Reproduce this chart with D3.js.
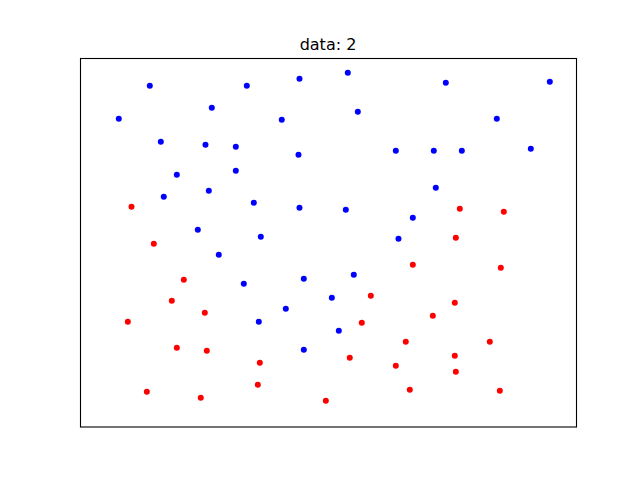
<!DOCTYPE html>
<html>
<head>
<meta charset="utf-8">
<script src="https://cdn.jsdelivr.net/npm/d3@7"></script>
<style>
  html, body { margin: 0; padding: 0; background: #fff; }
  svg { display: block; }
</style>
</head>
<body>
<svg id="chart" width="640" height="480"></svg>
<script>
const title = "data: 2";

const blueX = [13.97, 33.53, 44.15, 26.47, 7.72, 40.58, 16.19, 25.2, 31.31, 43.95,
  19.42, 31.31, 25.87, 16.79, 34.94, 44.15, 23.65, 36.35, 53.89, 73.65,
  94.62, 55.91, 83.93, 63.57, 71.23, 76.88, 90.79, 71.63, 53.49, 67.0,
  64.11, 27.88, 32.92, 45.02, 41.39, 35.95, 45.02, 55.1, 50.67, 52.08];
const blueY = [92.5, 92.5, 94.4, 86.55, 83.58, 83.31, 77.35, 76.54, 76.0, 73.84,
  68.43, 69.51, 64.1, 62.47, 60.85, 59.5, 53.54, 51.65, 96.02, 93.32,
  93.59, 85.47, 83.58, 74.92, 74.92, 74.92, 75.46, 64.91, 58.96, 56.79,
  51.11, 46.78, 38.93, 40.29, 32.17, 28.65, 21.08, 41.37, 35.15, 26.22];

const redX = [10.28, 14.78, 76.47, 85.34, 75.67, 20.83, 18.41, 25.06, 9.54, 19.42,
  25.46, 36.15, 35.75, 13.37, 24.25, 49.46, 67.0, 84.74, 58.53, 75.46,
  71.03, 56.71, 65.58, 82.52, 54.29, 75.46, 63.57, 75.67, 66.39, 84.54];
const redY = [59.77, 49.76, 59.23, 58.41, 51.38, 40.02, 34.33, 31.09, 28.65, 21.62,
  20.81, 17.56, 11.61, 9.71, 8.09, 7.28, 44.07, 43.26, 35.69, 33.79,
  30.28, 28.38, 23.24, 23.24, 18.91, 19.45, 16.75, 15.12, 10.25, 9.98];

const series = [
  { color: "#0000ff", xs: blueX, ys: blueY },
  { color: "#ff0000", xs: redX, ys: redY }
];

(function () {
  const svg = d3.select("#chart");
  const mLeft = 80, mRight = 576, mTop = 57.6, mBottom = 427.2;

  const x = d3.scaleLinear().domain([0, 100]).range([mLeft, mRight]);
  const y = d3.scaleLinear().domain([0, 100]).range([mBottom, mTop]);

  const g = svg.append("g").attr("transform", "translate(0.5,0.5)");
  series.forEach(s => {
    g.selectAll(null)
      .data(s.xs.map((v, i) => [v, s.ys[i]]))
      .enter().append("circle")
      .attr("cx", d => x(d[0]))
      .attr("cy", d => y(d[1]))
      .attr("r", 3)
      .attr("fill", s.color);
  });

  svg.append("rect")
    .attr("x", mLeft + 0.5).attr("y", 58.5)
    .attr("width", mRight - mLeft).attr("height", 368.5)
    .attr("fill", "none").attr("stroke", "#000").attr("stroke-width", 1.1);

  svg.append("text")
    .attr("x", (mLeft + mRight) / 2).attr("y", 49.6)
    .attr("text-anchor", "middle")
    .attr("font-family", "DejaVu Sans")
    .attr("font-size", 16)
    .attr("fill", "#000")
    .text(title);
})();
</script>
</body>
</html>
